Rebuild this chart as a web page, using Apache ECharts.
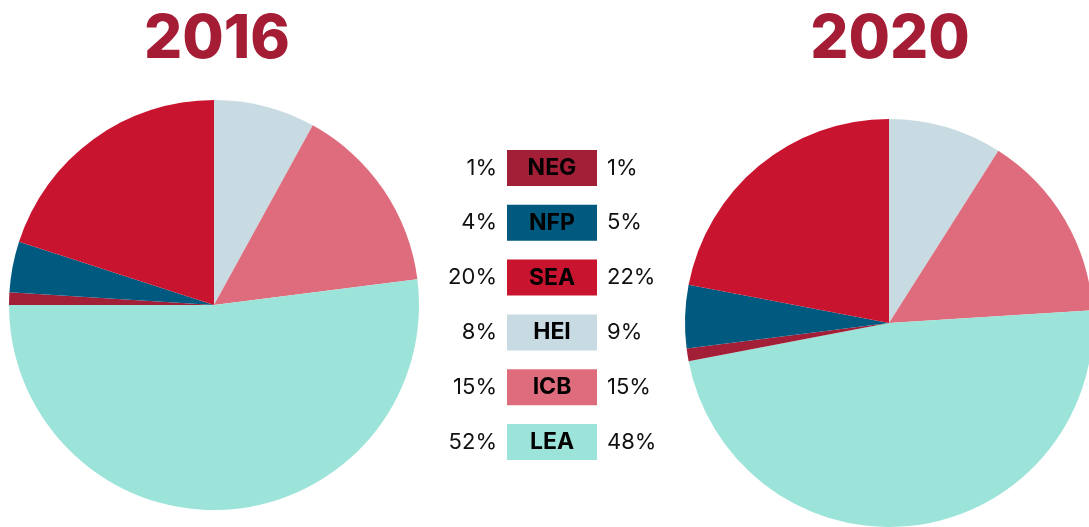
<!DOCTYPE html>
<html>
<head>
<meta charset="utf-8">
<script src="https://cdn.jsdelivr.net/npm/echarts@6/dist/echarts.min.js"></script>
<style>
  html, body { margin: 0; padding: 0; background: #fff; }
  #chart { width: 1089px; height: 527px; }
</style>
</head>
<body>
<div id="chart"></div>
<script>
// legend order (top to bottom)
var categories = ['NEG', 'NFP', 'SEA', 'HEI', 'ICB', 'LEA'];
var values2016 = [1, 4, 20, 8, 15, 52];
var values2020 = [1, 5, 22, 9, 15, 48];
var years = ['2016', '2020'];
// order the slices go round the pie, clockwise from 12 o'clock
var pieOrder = ['HEI', 'ICB', 'LEA', 'NEG', 'NFP', 'SEA'];

var colors = {
  NEG: '#a31f38',
  NFP: '#00597e',
  SEA: '#c9142f',
  HEI: '#c8dbe2',
  ICB: '#df6c7c',
  LEA: '#9ce4d9'
};
var titleColor = '#a51d35';
var font = 'Inter, "Noto Sans", sans-serif';

var chart = echarts.init(document.getElementById('chart'));

function pieData(vals) {
  return pieOrder.map(function (name) {
    return {
      name: name,
      value: vals[categories.indexOf(name)],
      itemStyle: { color: colors[name] }
    };
  });
}

// middle legend: box with name, 2016 value left, 2020 value right
var legendItems = [];
categories.forEach(function (name, i) {
  var y = 150 + i * 54.8;
  legendItems.push({
    type: 'rect',
    shape: { x: 507, y: y, width: 90, height: 36 },
    style: { fill: colors[name] }
  });
  legendItems.push({
    type: 'text',
    x: 552, y: y + 18,
    style: {
      text: name, fill: '#000', font: 'bold 23px ' + font,
      align: 'center', verticalAlign: 'middle'
    }
  });
  legendItems.push({
    type: 'text',
    x: 497, y: y + 18,
    style: {
      text: values2016[i] + '%', fill: '#111', font: '22px ' + font,
      align: 'right', verticalAlign: 'middle'
    }
  });
  legendItems.push({
    type: 'text',
    x: 607, y: y + 18,
    style: {
      text: values2020[i] + '%', fill: '#111', font: '22px ' + font,
      align: 'left', verticalAlign: 'middle'
    }
  });
});

var option = {
  backgroundColor: '#fff',
  animation: false,
  title: [
    {
      text: years[0], left: 212, top: 5, textAlign: 'center',
      textStyle: { color: titleColor, fontSize: 60, fontWeight: 800, fontFamily: font }
    },
    {
      text: years[1], left: 885, top: 5, textAlign: 'center',
      textStyle: { color: titleColor, fontSize: 60, fontWeight: 800, fontFamily: font }
    }
  ],
  graphic: legendItems,
  series: [
    {
      type: 'pie',
      center: [214, 305],
      radius: 205,
      startAngle: 90,
      clockwise: true,
      label: { show: false },
      labelLine: { show: false },
      emphasis: { disabled: true },
      data: pieData(values2016)
    },
    {
      type: 'pie',
      center: [889, 323],
      radius: 204,
      startAngle: 90,
      clockwise: true,
      label: { show: false },
      labelLine: { show: false },
      emphasis: { disabled: true },
      data: pieData(values2020)
    }
  ]
};
chart.setOption(option);
</script>
</body>
</html>
